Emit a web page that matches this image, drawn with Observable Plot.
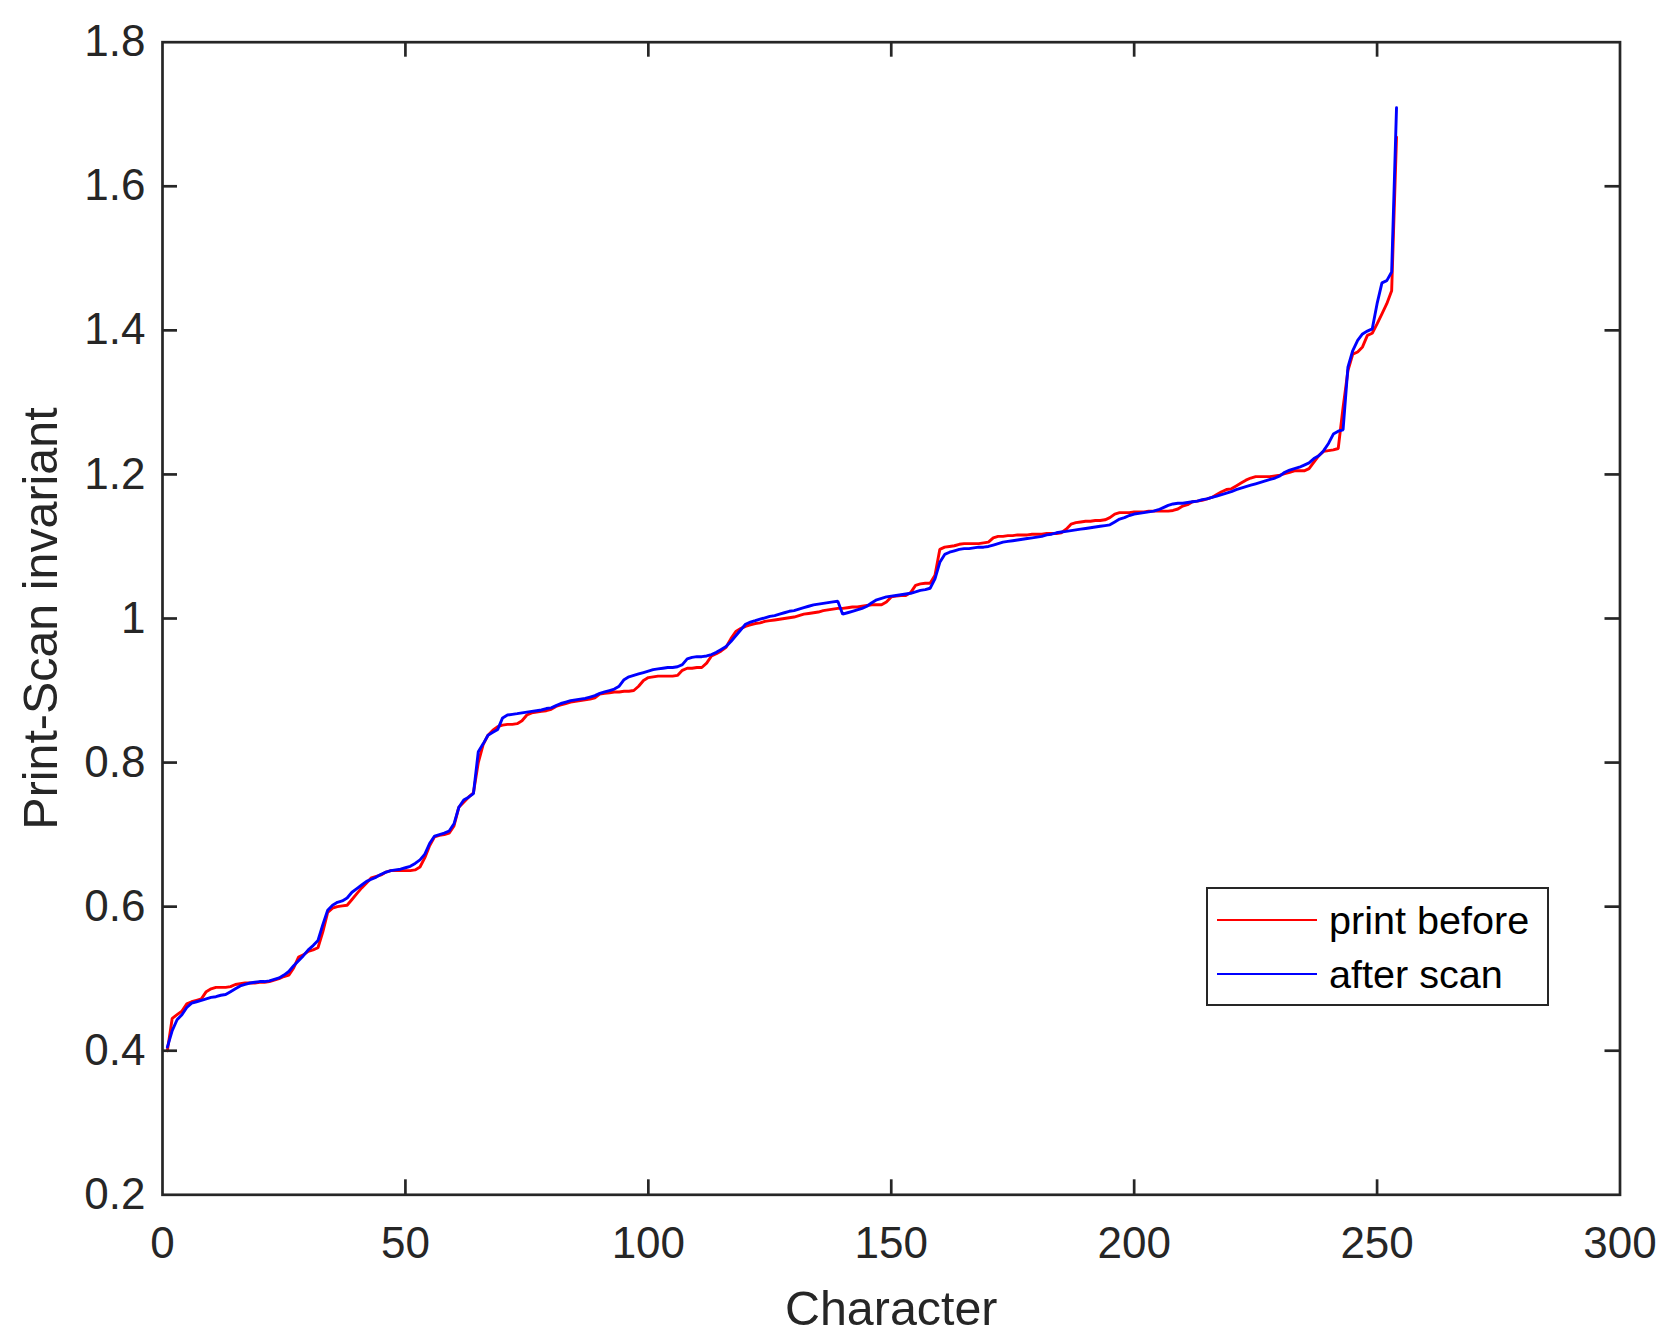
<!DOCTYPE html>
<html>
<head>
<meta charset="utf-8">
<script src="https://cdn.jsdelivr.net/npm/d3@7"></script>
<script src="https://cdn.jsdelivr.net/npm/@observablehq/plot@0.6"></script>
<style>
  html, body { margin: 0; padding: 0; background: #fff; }
  #wrap { position: relative; width: 1669px; height: 1338px; font-family: "Liberation Sans", Arial, Helvetica, sans-serif; }
  #legend { position: absolute; left: 1206px; top: 887px; width: 339px; height: 115px; border: 2.7px solid #262626; background: #fff; box-sizing: content-box; }
  .item { position: absolute; left: 0; height: 40px; width: 100%; }
  .sw { position: absolute; left: 9px; width: 100px; height: 0; border-top: 2.8px solid; }
  .lbl { position: absolute; left: 121px; font-size: 39.6px; color: #000; white-space: nowrap; line-height: 1; }
</style>
</head>
<body>
<div id="wrap"></div>
<script>
// ---- data ----
const seriesNames = ["print before", "after scan"];
const seriesColors = ["#ff0000", "#0000ff"];

const printBefore = [
0.400,0.445,0.450,0.455,0.465,0.468,0.470,0.472,0.482,0.486,
0.488,0.488,0.488,0.489,0.492,0.493,0.494,0.494,0.494,0.495,
0.495,0.496,0.498,0.500,0.503,0.505,0.515,0.530,0.533,0.538,
0.540,0.543,0.565,0.592,0.598,0.600,0.601,0.602,0.610,0.618,
0.626,0.633,0.640,0.642,0.644,0.648,0.650,0.650,0.650,0.650,
0.650,0.651,0.655,0.668,0.685,0.697,0.699,0.700,0.702,0.712,
0.738,0.745,0.752,0.758,0.800,0.825,0.838,0.845,0.850,0.852,
0.853,0.853,0.854,0.858,0.866,0.869,0.870,0.871,0.872,0.874,
0.878,0.880,0.882,0.884,0.885,0.886,0.887,0.888,0.890,0.895,
0.896,0.897,0.898,0.898,0.899,0.899,0.900,0.906,0.914,0.918,
0.919,0.920,0.920,0.920,0.920,0.921,0.928,0.931,0.931,0.932,
0.932,0.938,0.948,0.951,0.955,0.960,0.972,0.982,0.986,0.989,
0.991,0.993,0.994,0.996,0.997,0.998,0.999,1.000,1.001,1.002,
1.004,1.006,1.007,1.008,1.009,1.011,1.012,1.013,1.014,1.014,
1.015,1.016,1.016,1.017,1.018,1.019,1.019,1.019,1.023,1.030,
1.031,1.032,1.032,1.036,1.046,1.048,1.049,1.049,1.060,1.096,
1.099,1.100,1.101,1.103,1.104,1.104,1.104,1.104,1.105,1.106,
1.112,1.114,1.114,1.115,1.115,1.116,1.116,1.116,1.117,1.117,
1.117,1.118,1.118,1.118,1.119,1.124,1.131,1.133,1.134,1.135,
1.135,1.136,1.136,1.137,1.140,1.145,1.147,1.147,1.147,1.148,
1.148,1.148,1.149,1.149,1.149,1.149,1.149,1.150,1.152,1.156,
1.158,1.162,1.163,1.164,1.166,1.168,1.172,1.176,1.179,1.180,
1.184,1.188,1.192,1.195,1.197,1.197,1.197,1.197,1.198,1.199,
1.201,1.203,1.205,1.205,1.205,1.208,1.217,1.226,1.232,1.233,
1.234,1.236,1.293,1.344,1.367,1.370,1.377,1.393,1.396,1.409,
1.423,1.437,1.455,1.668
];

const afterScan = [
0.405,0.428,0.443,0.450,0.460,0.466,0.468,0.470,0.472,0.474,
0.475,0.477,0.478,0.482,0.486,0.490,0.492,0.494,0.495,0.496,
0.496,0.497,0.499,0.501,0.505,0.510,0.518,0.525,0.532,0.540,
0.546,0.553,0.575,0.595,0.602,0.606,0.608,0.612,0.620,0.625,
0.630,0.635,0.638,0.641,0.645,0.648,0.650,0.651,0.652,0.654,
0.656,0.660,0.665,0.673,0.688,0.698,0.700,0.702,0.705,0.715,
0.738,0.748,0.752,0.757,0.815,0.826,0.838,0.842,0.846,0.862,
0.866,0.867,0.868,0.869,0.870,0.871,0.872,0.873,0.875,0.876,
0.879,0.882,0.884,0.886,0.887,0.888,0.889,0.891,0.893,0.896,
0.898,0.900,0.902,0.906,0.915,0.919,0.921,0.923,0.925,0.927,
0.929,0.930,0.931,0.932,0.932,0.933,0.936,0.944,0.946,0.947,
0.947,0.948,0.950,0.953,0.957,0.961,0.968,0.976,0.984,0.992,
0.995,0.997,0.999,1.001,1.003,1.004,1.006,1.008,1.010,1.011,
1.013,1.015,1.017,1.019,1.020,1.021,1.022,1.023,1.024,1.006,
1.008,1.010,1.012,1.014,1.017,1.022,1.026,1.028,1.030,1.031,
1.032,1.033,1.034,1.035,1.037,1.039,1.040,1.042,1.055,1.078,
1.089,1.092,1.094,1.096,1.097,1.097,1.098,1.099,1.099,1.100,
1.102,1.104,1.106,1.107,1.108,1.109,1.110,1.111,1.112,1.113,
1.114,1.116,1.117,1.119,1.120,1.121,1.122,1.123,1.124,1.125,
1.126,1.127,1.128,1.129,1.130,1.134,1.138,1.140,1.143,1.145,
1.146,1.147,1.148,1.149,1.151,1.154,1.157,1.159,1.160,1.160,
1.161,1.162,1.163,1.165,1.166,1.168,1.170,1.172,1.174,1.176,
1.179,1.181,1.183,1.185,1.187,1.189,1.191,1.193,1.195,1.198,
1.203,1.206,1.208,1.210,1.213,1.216,1.222,1.226,1.233,1.243,
1.256,1.260,1.262,1.349,1.372,1.386,1.395,1.399,1.402,1.437,
1.466,1.469,1.481,1.709
];

const xTicks = [0, 50, 100, 150, 200, 250, 300];
const yTicks = [0.2, 0.4, 0.6, 0.8, 1.0, 1.2, 1.4, 1.6, 1.8];
const xLabel = "Character";
const yLabel = "Print-Scan invariant";

// ---- layout ----
const W = 1669, H = 1338;
const mL = 162, mR = 49.5, mT = 41.7, mB = 143.7;
const xDom = [0, 300], yDom = [0.2, 1.8];
const axisColor = "#262626";
const tickLen = 15;
const plotW = W - mL - mR, plotH = H - mT - mB;
const tx = tickLen * (xDom[1] - xDom[0]) / plotW;
const ty = tickLen * (yDom[1] - yDom[0]) / plotH;

const rows = [
  ...printBefore.map((v, i) => ({x: i + 1, y: v, s: seriesNames[0]})),
  ...afterScan.map((v, i) => ({x: i + 1, y: v, s: seriesNames[1]}))
];
const innerX = xTicks.slice(1, -1), innerY = yTicks.slice(1, -1);
const fmtY = d => String(+d.toFixed(1));

const chart = Plot.plot({
  width: W, height: H,
  marginLeft: mL, marginRight: mR, marginTop: mT, marginBottom: mB,
  style: {fontFamily: '"Liberation Sans", Arial, Helvetica, sans-serif', background: "#fff"},
  x: {domain: xDom, axis: null},
  y: {domain: yDom, axis: null},
  marks: [
    Plot.line(rows.filter(d => d.s === seriesNames[0]), {x: "x", y: "y", stroke: seriesColors[0], strokeWidth: 2.9, strokeLinejoin: "miter"}),
    Plot.line(rows.filter(d => d.s === seriesNames[1]), {x: "x", y: "y", stroke: seriesColors[1], strokeWidth: 2.9, strokeLinejoin: "miter"}),
    // inward ticks on all four sides
    Plot.ruleX(innerX, {x: d => d, y1: yDom[0], y2: yDom[0] + ty, stroke: axisColor, strokeWidth: 2.7}),
    Plot.ruleX(innerX, {x: d => d, y1: yDom[1], y2: yDom[1] - ty, stroke: axisColor, strokeWidth: 2.7}),
    Plot.ruleY(innerY, {y: d => d, x1: xDom[0], x2: xDom[0] + tx, stroke: axisColor, strokeWidth: 2.7}),
    Plot.ruleY(innerY, {y: d => d, x1: xDom[1], x2: xDom[1] - tx, stroke: axisColor, strokeWidth: 2.7}),
    Plot.frame({stroke: axisColor, strokeWidth: 2.7}),
    Plot.axisX(xTicks, {anchor: "bottom", tickSize: 0, tickPadding: 32, fontSize: 44, fill: axisColor, label: null}),
    Plot.axisY(yTicks, {anchor: "left", tickSize: 0, tickPadding: 17, fontSize: 44, fill: axisColor, tickFormat: fmtY, label: null}),
    Plot.text([xLabel], {text: d => d, frameAnchor: "bottom", textAnchor: "middle", dy: 130, fontSize: 48.4, fill: axisColor}),
    Plot.text([yLabel], {text: d => d, frameAnchor: "left", textAnchor: "middle", dx: -121, rotate: -90, fontSize: 48.4, fill: axisColor})
  ]
});

const wrap = document.getElementById("wrap");
wrap.appendChild(chart);

// legend (HTML overlay inside the axes)
const legend = document.createElement("div");
legend.id = "legend";
seriesNames.forEach((name, i) => {
  const item = document.createElement("div");
  item.className = "item";
  item.style.top = (i === 0 ? 12 : 66) + "px";
  const sw = document.createElement("div");
  sw.className = "sw";
  sw.style.borderTopColor = seriesColors[i];
  sw.style.top = "18px";
  const lb = document.createElement("div");
  lb.className = "lbl";
  lb.style.top = "0px";
  lb.textContent = name;
  item.appendChild(sw);
  item.appendChild(lb);
  legend.appendChild(item);
});
wrap.appendChild(legend);
</script>
</body>
</html>
